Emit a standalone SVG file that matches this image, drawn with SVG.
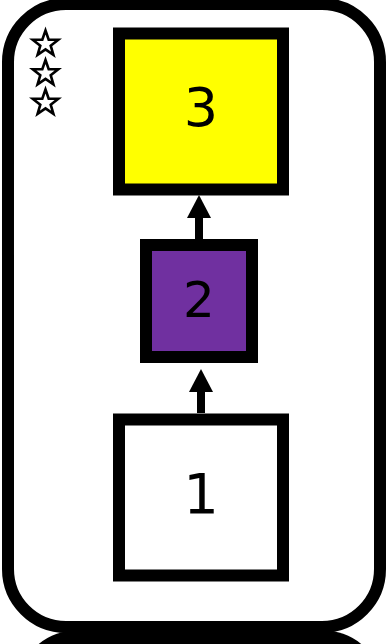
<svg xmlns="http://www.w3.org/2000/svg" width="386" height="644" viewBox="0 0 386 644">
<style>
.box{stroke:#000;stroke-width:12}
.lbl{font-family:"DejaVu Sans",sans-serif;fill:#000;text-anchor:middle}
.star{fill:#fff;stroke:#000;stroke-width:2.6;stroke-linejoin:miter}
.conn{stroke:#000;stroke-width:8;fill:none}
</style>
<defs>
<marker id="ah" markerUnits="userSpaceOnUse" markerWidth="24" markerHeight="24" refX="0" refY="12" orient="auto">
<path d="M0,0 L23,12 L0,24 Z" fill="#000"/>
</marker>
<polygon id="st" points="0,-13.5 3.2,-4.4 12.8,-4.2 5.2,1.7 7.9,10.9 0,5.4 -7.9,10.9 -5.2,1.7 -12.8,-4.2 -3.2,-4.4"/>
</defs>
<rect x="0" y="0" width="386" height="644" fill="#fff"/>
<rect x="21" y="630" width="358" height="100" rx="58" fill="#000"/>
<g id="card">
<rect x="8" y="4" width="372" height="623" rx="58" fill="#fff" class="box"/>
</g>
<g id="stars">
<use href="#st" class="star" x="45.5" y="44"/>
<use href="#st" class="star" x="45.5" y="73.5"/>
<use href="#st" class="star" x="45.5" y="103"/>
</g>
<g id="connectors">
<line class="conn" x1="199" y1="239" x2="199" y2="218" marker-end="url(#ah)"/>
<line class="conn" x1="201" y1="413" x2="201" y2="392" marker-end="url(#ah)"/>
</g>
<g id="node3">
<rect x="119" y="33.5" width="164" height="156" fill="#ffff00" class="box"/>
<text class="lbl" x="201" y="126" font-size="54">3</text>
</g>
<g id="node2">
<rect x="146" y="245" width="106" height="112" fill="#7030a0" class="box"/>
<text class="lbl" x="199" y="316.5" font-size="50">2</text>
</g>
<g id="node1">
<rect x="119" y="419.5" width="164" height="156" fill="#fff" class="box"/>
<text class="lbl" x="201" y="513" font-size="56">1</text>
</g>
</svg>
